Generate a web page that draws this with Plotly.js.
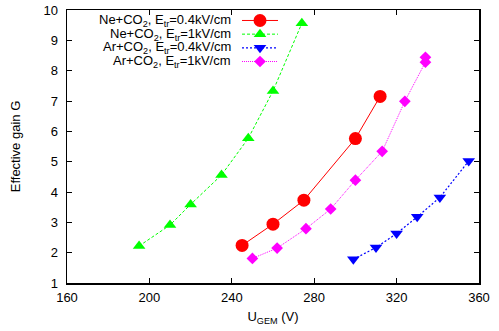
<!DOCTYPE html>
<html>
<head>
<meta charset="utf-8">
<script src="https://cdn.plot.ly/plotly-3.0.1.min.js"></script>
<style>
html,body{margin:0;padding:0;background:#fff;}
#chart{width:499px;height:331px;}
</style>
</head>
<body>
<div id="chart"></div>
<script>
// ---- data ----
var voltsNe04 = [245, 260, 275, 300, 312];
var gainNe04  = [2.24, 2.94, 3.73, 5.76, 7.15];

var voltsNe1 = [195, 210, 220, 235, 248, 260, 274];
var gainNe1  = [2.22, 2.91, 3.59, 4.56, 5.77, 7.33, 9.56];

var voltsAr04 = [299, 310, 320, 330, 341, 355];
var gainAr04  = [1.78, 2.17, 2.63, 3.18, 3.82, 5.02];

var voltsAr1 = [250, 262, 276, 288, 300, 313, 324, 334, 334];
var gainAr1  = [1.81, 2.15, 2.79, 3.44, 4.39, 5.34, 6.99, 8.28, 8.44];

var seriesNames = [
  'Ne+CO<sub>2</sub>, E<sub>tr</sub>=0.4kV/cm',
  'Ne+CO<sub>2</sub>, E<sub>tr</sub>=1kV/cm',
  'Ar+CO<sub>2</sub>, E<sub>tr</sub>=0.4kV/cm',
  'Ar+CO<sub>2</sub>, E<sub>tr</sub>=1kV/cm'
];
var xTicks = [160, 200, 240, 280, 320, 360];
var yTicks = [1, 2, 3, 4, 5, 6, 7, 8, 9, 10];

// ---- layout geometry ----
var W = 499, H = 331;
var L = 67, R = 479, T = 9.5, B = 283;
function px2x(px){ return (px - L) / (R - L); }
function py2y(py){ return (B - py) / (B - T); }

var FONT = 'Liberation Sans, Arial, sans-serif';
var FS = 13;

var colors = ['#ff0000', '#00ff00', '#0000ff', '#ff00ff'];
var dashes = ['solid', '3px,2px', '2px,2px', '1px,1px'];

var traces = [
  {x: voltsNe04, y: gainNe04, mode: 'lines+markers', name: seriesNames[0],
   line: {color: colors[0], width: 1, dash: dashes[0]},
   marker: {symbol: 'circle', size: 13, color: colors[0], line: {width: 0}}},
  {x: voltsNe1, y: gainNe1, mode: 'lines+markers', name: seriesNames[1],
   line: {color: colors[1], width: 1, dash: dashes[1]},
   marker: {symbol: 'triangle-up', size: 11, color: colors[1], line: {width: 0}}},
  {x: voltsAr04, y: gainAr04, mode: 'lines+markers', name: seriesNames[2],
   line: {color: colors[2], width: 1.2, dash: dashes[2]},
   marker: {symbol: 'triangle-down', size: 11, color: colors[2], line: {width: 0}}},
  {x: voltsAr1, y: gainAr1, mode: 'lines+markers', name: seriesNames[3],
   line: {color: colors[3], width: 1, dash: dashes[3]},
   marker: {symbol: 'diamond', size: 9, color: colors[3], line: {width: 0}}}
];

// ---- manual gnuplot-style key (text left, sample right) ----
var keyRows = [20, 33.7, 47.4, 61.1];
var keyTextRight = 233, keyLineL = 242, keyLineR = 278, keyMark = 260;
var shapes = [], annotations = [];
// pixel-size paths: y axis points up
var markPaths = [
  null,
  'M0,5.5 L6.35,-2.75 L-6.35,-2.75 Z',
  'M0,-5.5 L6.35,2.75 L-6.35,2.75 Z',
  'M0,-5.85 L5.85,0 L0,5.85 L-5.85,0 Z'
];
for (var i = 0; i < 4; i++) {
  var yy = py2y(keyRows[i]);
  shapes.push({type: 'line', xref: 'paper', yref: 'paper',
    x0: px2x(keyLineL), x1: px2x(keyLineR), y0: yy, y1: yy,
    line: {color: colors[i], width: i === 2 ? 1.2 : 1, dash: dashes[i]}});
  if (i === 0) {
    shapes.push({type: 'circle', xref: 'paper', yref: 'paper',
      xsizemode: 'pixel', ysizemode: 'pixel', xanchor: px2x(keyMark), yanchor: yy,
      x0: -6.5, x1: 6.5, y0: -6.5, y1: 6.5,
      fillcolor: colors[i], line: {width: 0}});
  } else {
    shapes.push({type: 'path', xref: 'paper', yref: 'paper',
      xsizemode: 'pixel', ysizemode: 'pixel', xanchor: px2x(keyMark), yanchor: yy,
      path: markPaths[i], fillcolor: colors[i], line: {width: 0}});
  }
  annotations.push({xref: 'paper', yref: 'paper', x: px2x(keyTextRight), y: yy,
    xanchor: 'right', yanchor: 'middle', showarrow: false, text: seriesNames[i],
    font: {family: FONT, size: FS, color: '#000'}});
}

var layout = {
  width: W, height: H,
  margin: {l: L, r: W - R, t: T, b: H - B, pad: 0},
  paper_bgcolor: '#fff', plot_bgcolor: '#fff',
  showlegend: false,
  font: {family: FONT, size: FS, color: '#000'},
  xaxis: {
    range: [160, 360], tickvals: xTicks, ticktext: xTicks.map(String),
    ticks: 'inside', ticklen: 5, tickwidth: 1, tickcolor: '#000',
    showline: true, linecolor: '#000', linewidth: 1.5, mirror: 'ticks',
    showgrid: false, zeroline: false, ticklabelstandoff: 2,
    tickfont: {family: FONT, size: FS, color: '#000'},
    title: {text: 'U<sub>GEM</sub> (V)', font: {family: FONT, size: FS, color: '#000'}, standoff: 8}
  },
  yaxis: {
    range: [1, 10], tickvals: yTicks, ticktext: yTicks.map(String),
    ticks: 'inside', ticklen: 5, tickwidth: 1, tickcolor: '#000',
    showline: true, linecolor: '#000', linewidth: 1.5, mirror: 'ticks',
    showgrid: false, zeroline: false, ticklabelstandoff: 5,
    tickfont: {family: FONT, size: FS, color: '#000'},
    title: {text: 'Effective gain G', font: {family: FONT, size: FS, color: '#000'}, standoff: 20}
  },
  shapes: shapes,
  annotations: annotations
};

Plotly.newPlot('chart', traces, layout, {displayModeBar: false, staticPlot: true});
</script>
</body>
</html>
